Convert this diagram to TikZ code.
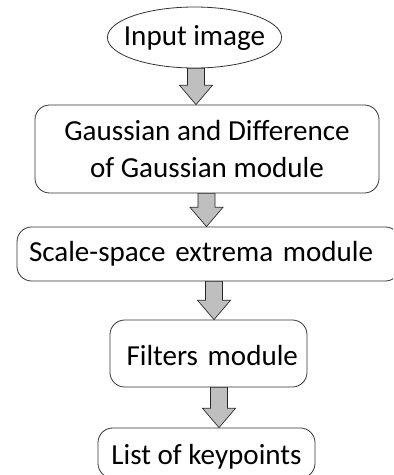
\documentclass[tikz,border=0pt]{standalone}
\usepackage{fontspec}
\setmainfont{Carlito}
\usetikzlibrary{shapes.geometric,calc}

\tikzset{
	stagebox/.style={draw=black!80,line width=0.6pt,rounded corners=11pt,inner sep=0pt,font=\fontsize{21.8}{28}\selectfont},
	lowtext/.style={text height=22pt,text depth=4.5pt},
	blockarrow/.style={draw=black!85,line width=0.5pt,fill=black!25}
}
% block arrow from the bottom of #1 to the top of #2, centred at x=#3
\newcommand{\flowarrow}[3]{%
	\path (#3,0) coordinate (ax);
	\draw [blockarrow] let \p1=(ax |- #1.south), \p2=(ax |- #2.north) in
		(\x1-6.4pt,\y1) -- (\x1+6.4pt,\y1) -- (\x1+6.4pt,\y2-14.5pt) -- (\x1+12.4pt,\y2-14.5pt)
		-- (\x2,\y2) -- (\x1-12.4pt,\y2-14.5pt) -- (\x1-6.4pt,\y2-14.5pt) -- cycle;}

\begin{document}
\begin{tikzpicture}[x=0.75pt,y=0.75pt,yscale=-1,xscale=1]
	\useasboundingbox (0,0) rectangle (393,475);
	\clip (0,0) rectangle (393,475);
	
	%Shape: Ellipse
	\node (inimg) [stagebox, ellipse, inner xsep=-6.75pt, minimum height=45.75pt] at (194.5,37.5) {Input image};
	%Rounded Rect
	\node (gauss) [stagebox, minimum width=258pt, minimum height=66pt, align=center] at (207,149) {Gaussian and Difference\\of Gaussian module};
	%Rounded Rect
	\node (extrema) [stagebox, minimum height=40.5pt, text width=269.25pt, inner xsep=9pt, align=left] at (208.5,254) {Scale-space extrema module};
	%Rounded Rect
	\node (filters) [stagebox, lowtext, minimum height=50.25pt, text width=134.25pt, inner xsep=6.75pt, align=right] at (208.5,353.5) {Filters module};
	%Rounded Rect
	\node (keypts) [stagebox, lowtext, minimum width=162.75pt, minimum height=37.5pt] at (206.5,453) {List of keypoints};
	
	%Block Arrows
	\flowarrow{inimg}{gauss}{196}
	\flowarrow{gauss}{extrema}{206.5}
	\flowarrow{extrema}{filters}{214}
	\flowarrow{filters}{keypts}{219}
	
\end{tikzpicture}
\end{document}
